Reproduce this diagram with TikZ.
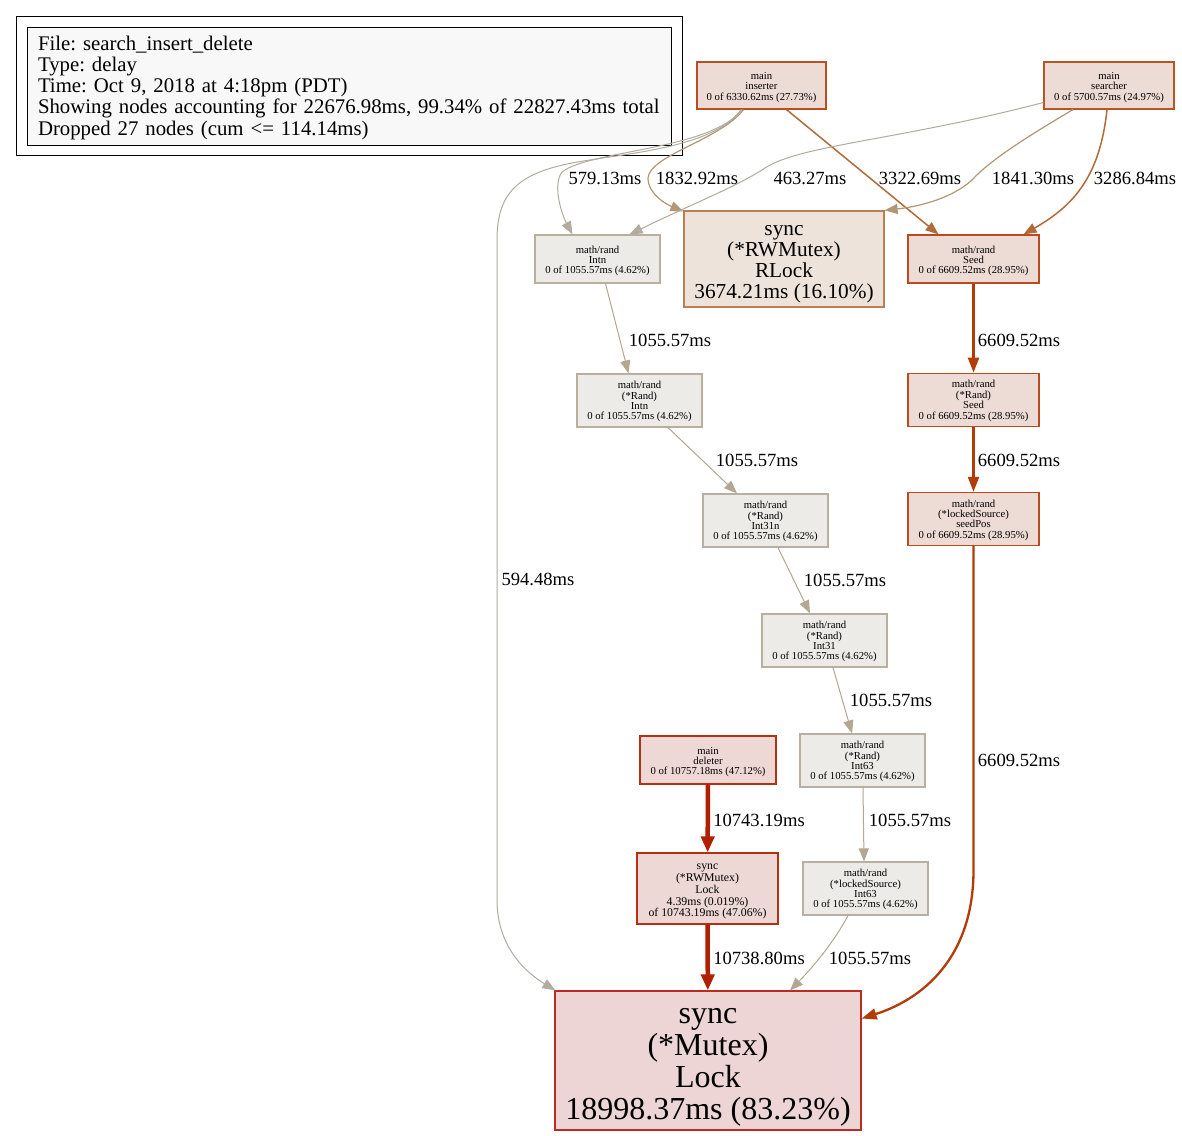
\documentclass[tikz,border=0pt]{standalone}
\usepackage{fontspec}
\setmainfont{Liberation Serif}
\frenchspacing
\usetikzlibrary{arrows.meta, positioning, calc}

\definecolor{legendfill}{HTML}{F8F8F8}
\definecolor{coldfill}{HTML}{EDEBE8}
\definecolor{coldline}{HTML}{B8AF9F}
\definecolor{rlockfill}{HTML}{EDE3DB}
\definecolor{rlockline}{HTML}{BC8050}
\definecolor{hotfill}{HTML}{EDDBD5}
\definecolor{seedline}{HTML}{BC4A1C}
\definecolor{insline}{HTML}{BA4E1E}
\definecolor{srchline}{HTML}{BA5420}
\definecolor{delfill}{HTML}{EDD8D5}
\definecolor{delline}{HTML}{B82E10}
\definecolor{mutexfill}{HTML}{EDD5D5}
\definecolor{mutexline}{HTML}{BC2A22}
\definecolor{ecool}{HTML}{B2AC9F}
\definecolor{egray}{HTML}{B2A790}
\definecolor{etan}{HTML}{B29775}
\definecolor{eorange}{HTML}{B26A3A}
\definecolor{eseed}{HTML}{B23C08}
\definecolor{edel}{HTML}{B21F00}

\begin{document}
\begin{tikzpicture}[
    x=1pt, y=-1pt,
    every node/.style={align=center},
    fn/.style={rectangle, draw, inner sep=0pt, line width=1.2pt, text depth=0pt,
               font=\fontsize{10.7}{10.4}\selectfont},
    three/.style={text height=29.6pt},
    four/.style={text height=38.8pt},
    cold/.style={fn, four, fill=coldfill, draw=coldline, minimum width=125pt, minimum height=53pt},
    hot/.style={fn, three, fill=hotfill, draw=seedline, minimum height=48pt},
    lbl/.style={font=\fontsize{18.6}{18.6}\selectfont, inner sep=0pt},
    e/.style={draw=egray, line width=1pt, -{Triangle[length=13pt, width=10pt]}},
    hotedge/.style={draw=eseed, line width=2.3pt, -{Triangle[length=15pt, width=11pt]}},
    deledge/.style={draw=edel, line width=4.5pt, -{Triangle[length=16pt, width=13pt]}}
]

\fill[white] (0,0) rectangle (1182,1135);
\useasboundingbox (0,0) rectangle (1182,1135);

% ----------------------
% Legend
% ----------------------
\node[draw, line width=1pt, minimum width=666pt, minimum height=139pt] (legendbox) at (349,85.5) {};
\node[draw, line width=1pt, fill=legendfill, text width=622pt, inner xsep=11pt, inner ysep=0pt,
      minimum height=118pt, align=left, text height=18pt,
      font=\fontsize{20.8}{21.2}\selectfont] (info) at (349,86)
    {File: search\_insert\_delete\\
     Type: delay\\
     Time: Oct 9, 2018 at 4:18pm (PDT)\\
     Showing nodes accounting for 22676.98ms, 99.34\% of 22827.43ms total\\
     Dropped 27 nodes (cum <= 114.14ms)};

% ----------------------
% Nodes
% ----------------------

% callers
\node[hot, draw=insline, minimum width=129pt, minimum height=47pt] (inserter) at (761.5,85.5)
    {main\\inserter\\0 of 6330.62ms (27.73\%)};
\node[hot, draw=srchline, minimum width=130pt, minimum height=47pt] (searcher) at (1109,85.5)
    {main\\searcher\\0 of 5700.57ms (24.97\%)};
\node[hot, fill=delfill, draw=delline, minimum width=136pt] (deleter) at (708,760)
    {main\\deleter\\0 of 10757.18ms (47.12\%)};

% rand chain
\node[cold, three, minimum height=48pt] (intn) at (597.5,259) {math/rand\\Intn\\0 of 1055.57ms (4.62\%)};
\node[cold] (randintn) at (639.5,400.5) {math/rand\\(*Rand)\\Intn\\0 of 1055.57ms (4.62\%)};
\node[cold] (int31n) at (765.5,520.5) {math/rand\\(*Rand)\\Int31n\\0 of 1055.57ms (4.62\%)};
\node[cold] (int31) at (824.5,640.5) {math/rand\\(*Rand)\\Int31\\0 of 1055.57ms (4.62\%)};
\node[cold] (int63) at (862.5,760.5) {math/rand\\(*Rand)\\Int63\\0 of 1055.57ms (4.62\%)};
\node[cold] (srcint63) at (865.5,888.5) {math/rand\\(*lockedSource)\\Int63\\0 of 1055.57ms (4.62\%)};

% seed chain
\node[hot, minimum width=131pt] (seed) at (973.5,259) {math/rand\\Seed\\0 of 6609.52ms (28.95\%)};
\node[hot, four, minimum width=131pt, minimum height=53pt, below=89pt of seed] (randseed)
    {math/rand\\(*Rand)\\Seed\\0 of 6609.52ms (28.95\%)};
\node[hot, four, minimum width=131pt, minimum height=53pt, below=65pt of randseed] (seedpos)
    {math/rand\\(*lockedSource)\\seedPos\\0 of 6609.52ms (28.95\%)};

% locks
\node[fn, fill=rlockfill, draw=rlockline, minimum width=200pt, minimum height=96pt, text height=78.4pt,
      font=\fontsize{21.3}{20.8}\selectfont] (rlock) at (784,259)
    {sync\\(*RWMutex)\\RLock\\3674.21ms (16.10\%)};
\node[fn, fill=delfill, draw=delline, minimum width=141pt, minimum height=71pt, text height=56.4pt,
      font=\fontsize{11.8}{11.7}\selectfont] (rwlock) at (707.5,888.5)
    {sync\\(*RWMutex)\\Lock\\4.39ms (0.019\%)\\of 10743.19ms (47.06\%)};
\node[fn, fill=mutexfill, draw=mutexline, minimum width=306pt, minimum height=139pt, text height=117pt,
      font=\fontsize{32}{32}\selectfont] (mutex) at (708,1060.5)
    {sync\\(*Mutex)\\Lock\\18998.37ms (83.23\%)};

% ----------------------
% Arrows
% ----------------------

% inserter
\draw[e, draw=ecool] ($(inserter.south)+(-20,0)$) .. controls (715,145) and (640,152) .. (590,160)
    .. controls (520,170) and (497,190) .. (497,240) -- (497,900)
    .. controls (497,950) and (530,975) .. ($(mutex.north west)+(1,0)$)
    node[lbl] at (538,579) {594.48ms};
\draw[e, draw=ecool] ($(inserter.south)+(-20,0)$) .. controls (712,150) and (590,150) .. (562,172)
    .. controls (552,185) and (562,215) .. ($(intn.north)+(-25,0)$)
    node[lbl] at (605,178) {579.13ms};
\draw[e, draw=etan, line width=1.2pt] ($(inserter.south)+(-18,0)$) .. controls (720,140) and (650,155) .. (648,178)
    .. controls (648,195) and (668,205) .. ($(rlock.north west)+(0,1)$)
    node[lbl] at (697,178) {1832.92ms};
\draw[e, draw=eorange, line width=1.5pt] ($(inserter.south)+(25,0)$) -- ($(seed.north)+(-35,0)$)
    node[lbl] at (920,178) {3322.69ms};

% searcher
\draw[e, draw=ecool] ($(searcher.west)+(0,17)$) .. controls (900,140) and (800,145) .. (765,168)
    .. controls (740,185) and (690,205) .. ($(intn.north)+(32,0)$)
    node[lbl] at (810,178) {463.27ms};
\draw[e, draw=etan, line width=1.2pt] ($(searcher.south)+(-36,0)$) .. controls (1030,135) and (990,160) .. (972,180)
    .. controls (950,200) and (915,207) .. (rlock.north east)
    node[lbl] at (1033,178) {1841.30ms};
\draw[e, draw=eorange, line width=1.5pt] ($(searcher.south)+(-2,0)$) .. controls (1100,175) and (1075,205) .. ($(seed.north)+(50,0)$)
    node[lbl] at (1135,178) {3286.84ms};

% rand chain
\draw[e] ($(intn.south)+(8,0)$) -- ($(randintn.north)+(-11,0)$) node[lbl] at (670,340) {1055.57ms};
\draw[e] ($(randintn.south)+(28.5,0)$) -- ($(int31n.north)+(-28.5,0)$) node[lbl] at (757,460) {1055.57ms};
\draw[e] ($(int31n.south)+(12.5,0)$) -- ($(int31.north)+(-14.5,0)$) node[lbl] at (845,580) {1055.57ms};
\draw[e] ($(int31.south)+(8.5,0)$) -- ($(int63.north)+(-10.5,0)$) node[lbl] at (891,700) {1055.57ms};
\draw[e] ($(int63.south)+(0.5,0)$) -- ($(srcint63.north)+(-1.5,0)$) node[lbl] at (910,820) {1055.57ms};
\draw[e] ($(srcint63.south)+(-17.5,0)$) .. controls (835,940) and (815,965) .. ($(mutex.north)+(82,0)$)
    node[lbl] at (870,958) {1055.57ms};

% seed chain
\draw[hotedge] (seed) -- (randseed) node[lbl] at (1019,340) {6609.52ms};
\draw[hotedge] (randseed) -- (seedpos) node[lbl] at (1019,460) {6609.52ms};
\draw[hotedge] (seedpos.south) -- (973.5,870) .. controls (973.5,960) and (920,1000) .. ($(mutex.east)+(0,-42)$)
    node[lbl] at (1019,760) {6609.52ms};

% deleter
\draw[deledge] (deleter) -- (rwlock) node[lbl] at (759,820) {10743.19ms};
\draw[deledge] (rwlock) -- (mutex) node[lbl] at (759,958) {10738.80ms};

\end{tikzpicture}
\end{document}
